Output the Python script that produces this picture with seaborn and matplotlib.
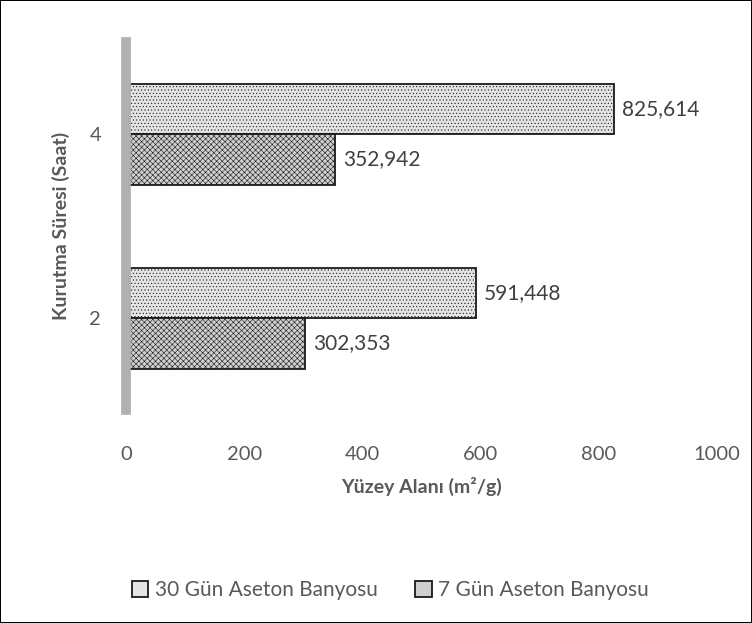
import pandas as pd
import matplotlib.pyplot as plt
import seaborn as sns

# Datos
kurutma = ['4', '2']
seri_30 = '30 Gün Aseton Banyosu'
seri_7 = '7 Gün Aseton Banyosu'
alan_30 = [825.614, 591.448]
alan_7 = [352.942, 302.353]
x_ticks = [0, 200, 400, 600, 800, 1000]

df = pd.DataFrame({
    'Kurutma': kurutma * 2,
    'Seri': [seri_30] * len(kurutma) + [seri_7] * len(kurutma),
    'Alan': alan_30 + alan_7,
})

sns.set_theme(style='white')
plt.rcParams['font.family'] = ['Lato', 'DejaVu Sans']
plt.rcParams['hatch.linewidth'] = 0.4

gri = '#595959'
fig = plt.figure(figsize=(7.52, 6.23), dpi=100, edgecolor='black', linewidth=1.2)
ax = fig.add_axes([0.1676, 0.342, 0.786, 0.59])

sns.barplot(data=df, x='Alan', y='Kurutma', hue='Seri',
            order=kurutma, hue_order=[seri_30, seri_7], orient='h',
            palette=['#e4e4e4', '#cfcfcf'], width=0.55, edgecolor='#1a1a1a',
            linewidth=1.3, ax=ax, legend=True)

# Relleno con tramas, como el original
tramas = {seri_30: '.....', seri_7: 'xxxxxx'}
for cont, nombre in zip(ax.containers, [seri_30, seri_7]):
    for barra in cont:
        barra.set_hatch(tramas[nombre])
    etiquetas = [f'{v:.3f}'.replace('.', ',') for v in cont.datavalues]
    ax.bar_label(cont, labels=etiquetas, padding=6, fontsize=15, color='#404040')

ax.set_xlim(0, 1000)
ax.set_xticks(x_ticks)
ax.tick_params(axis='x', labelsize=14.5, labelcolor=gri, length=0, pad=26)
ax.tick_params(axis='y', labelsize=14.5, labelcolor=gri, length=0, pad=18)
ax.set_xlabel('Yüzey Alanı (m²/g)', fontsize=14, fontweight='bold', color=gri, labelpad=10)
ax.set_ylabel('Kurutma Süresi (Saat)', fontsize=14, fontweight='bold', color=gri, labelpad=14)

for lado in ['top', 'right', 'bottom']:
    ax.spines[lado].set_visible(False)
ax.spines['left'].set_color('#b0b0b0')
ax.spines['left'].set_linewidth(7)

# Leyenda abajo
handles, labels = ax.get_legend_handles_labels()
ax.get_legend().remove()
fig.legend(handles, labels, loc='center', bbox_to_anchor=(0.519, 0.053), ncol=2,
           frameon=False, fontsize=15, labelcolor=gri, handlelength=0.8,
           handleheight=0.8, handletextpad=0.3, columnspacing=1.8)

fig.savefig('out.png', dpi=100, edgecolor=fig.get_edgecolor())
